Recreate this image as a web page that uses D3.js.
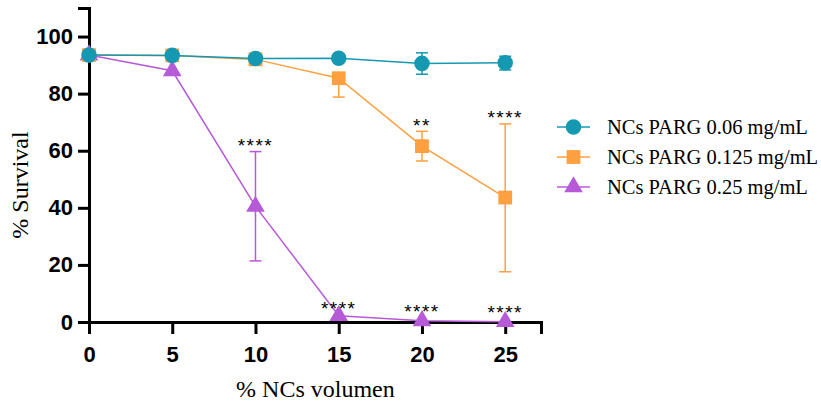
<!DOCTYPE html>
<html>
<head>
<meta charset="utf-8">
<script src="https://cdn.jsdelivr.net/npm/d3@7"></script>
<style>
  body { margin: 0; background: #fff; }
  .tick text { font-family: "Liberation Sans", Arial, sans-serif; font-weight: bold; font-size: 22px; fill: #000; }
</style>
</head>
<body>
<div id="chart"></div>
<script>
// x values (% NCs volumen)
var doses = [0, 5, 10, 15, 20, 25];
var seriesNames = ["NCs PARG 0.06 mg/mL", "NCs PARG 0.125 mg/mL", "NCs PARG 0.25 mg/mL"];
var seriesColors = ["#1598b2", "#ffa040", "#b75ad8"];
var seriesSymbols = [d3.symbolCircle, d3.symbolSquare, d3.symbolTriangle];

// mean survival, and error bar ends (null = no visible bar)
var lowMean  = [93.5, 93.4, 92.3, 92.4, 90.6, 90.8];
var lowErrHi = [null, null, null, null, 94.3, 93.1];
var lowErrLo = [null, null, null, null, 86.8, 88.3];

var midMean  = [93.5, 93.4, 92.0, 85.4, 61.6, 43.6];
var midErrHi = [null, null, null, null, 66.8, 69.4];
var midErrLo = [null, null, null, 78.8, 56.4, 17.6];

var highMean  = [93.5, 88.0, 40.5, 2.2, 0.4, 0.1];
var highErrHi = [null, null, 59.7, null, null, null];
var highErrLo = [null, null, 21.4, null, null, null];

// significance labels
var sigDose  = [10, 20, 25, 15, 20, 25];
var sigValue = [60.5, 67.5, 70.5, 3.5, 2.5, 2];
var sigText  = ["****", "**", "****", "****", "****", "****"];

var yTicks = [0, 20, 40, 60, 80, 100];

var svgWidth = 821, svgHeight = 403;
var margin = { top: 8, left: 89 };
var chartWidth = 541 - 89;
var chartHeight = 322 - 8;

var svg = d3.select("#chart").append("svg")
    .attr("width", svgWidth)
    .attr("height", svgHeight);

var g = svg.append("g").attr("transform", `translate(${margin.left}, ${margin.top})`);

var x = d3.scaleLinear().domain([0, 27.15]).range([0, chartWidth]);
var y = d3.scaleLinear().domain([0, 110]).range([chartHeight, 0]);

var series = [
  { mean: lowMean, hi: lowErrHi, lo: lowErrLo },
  { mean: midMean, hi: midErrHi, lo: midErrLo },
  { mean: highMean, hi: highErrHi, lo: highErrLo }
];

// axes
var xAxis = g.append("g")
    .attr("transform", `translate(0, ${chartHeight})`)
    .call(d3.axisBottom(x).tickValues(doses).tickSize(12).tickPadding(12));
var yAxis = g.append("g")
    .call(d3.axisLeft(y).tickValues(yTicks).tickSize(11).tickPadding(5));
[xAxis, yAxis].forEach(a => {
  a.select(".domain").attr("stroke", "#000").attr("stroke-width", 3);
  a.selectAll(".tick line").attr("stroke", "#000").attr("stroke-width", 3);
});

// draw series (last one first so teal sits on top)
var line = d3.line().x((d, i) => x(doses[i])).y(d => y(d));
[2, 1, 0].forEach(k => {
  var s = series[k], col = seriesColors[k];
  var sg = g.append("g");
  // error bars
  doses.forEach((dv, i) => {
    [s.hi[i], s.lo[i]].forEach(e => {
      if (e === null) return;
      sg.append("line")
        .attr("x1", x(dv)).attr("x2", x(dv))
        .attr("y1", y(s.mean[i])).attr("y2", y(e))
        .attr("stroke", col).attr("stroke-width", 1.5);
      sg.append("line")
        .attr("x1", x(dv) - 6).attr("x2", x(dv) + 6)
        .attr("y1", y(e)).attr("y2", y(e))
        .attr("stroke", col).attr("stroke-width", 1.5);
    });
  });
  sg.append("path")
    .datum(s.mean)
    .attr("d", line)
    .attr("fill", "none")
    .attr("stroke", col)
    .attr("stroke-width", 1.5);
  sg.selectAll("path.pt")
    .data(s.mean)
    .join("path")
    .attr("class", "pt")
    .attr("transform", (d, i) => `translate(${x(doses[i])}, ${y(d)})`)
    .attr("d", d3.symbol().type(seriesSymbols[k]).size(k === 2 ? 150 : 190))
    .attr("fill", col);
});

// significance stars
g.selectAll("text.sig")
  .data(sigText)
  .join("text")
  .attr("class", "sig")
  .attr("x", (d, i) => x(sigDose[i]))
  .attr("y", (d, i) => y(sigValue[i]) + 3)
  .attr("text-anchor", "middle")
  .style("font-family", "'Liberation Sans', Arial, sans-serif")
  .style("font-size", "19px")
  .style("letter-spacing", "1.5px")
  .text(d => d);

// axis titles
svg.append("text")
  .attr("transform", `translate(28, ${margin.top + y(48)}) rotate(-90)`)
  .attr("text-anchor", "middle")
  .style("font-family", "'Liberation Serif', 'Times New Roman', serif")
  .style("font-size", "24px")
  .text("% Survival");
svg.append("text")
  .attr("x", margin.left + x(13.6))
  .attr("y", 397)
  .attr("text-anchor", "middle")
  .style("font-family", "'Liberation Serif', 'Times New Roman', serif")
  .style("font-size", "24px")
  .text("% NCs volumen");

// legend
var legend = svg.append("g").attr("transform", "translate(557, 127)");
seriesNames.forEach((name, k) => {
  var row = legend.append("g").attr("transform", `translate(0, ${k * 30})`);
  row.append("line").attr("x1", 0).attr("x2", 33).attr("y1", 0).attr("y2", 0)
    .attr("stroke", seriesColors[k]).attr("stroke-width", 1.5);
  row.append("path")
    .attr("transform", "translate(16.5, 0)")
    .attr("d", d3.symbol().type(seriesSymbols[k]).size(k === 2 ? 150 : 190))
    .attr("fill", seriesColors[k]);
  row.append("text")
    .attr("x", 50).attr("y", 7)
    .style("font-family", "'Liberation Serif', 'Times New Roman', serif")
    .style("font-size", "20.5px")
    .text(name);
});
</script>
</body>
</html>
